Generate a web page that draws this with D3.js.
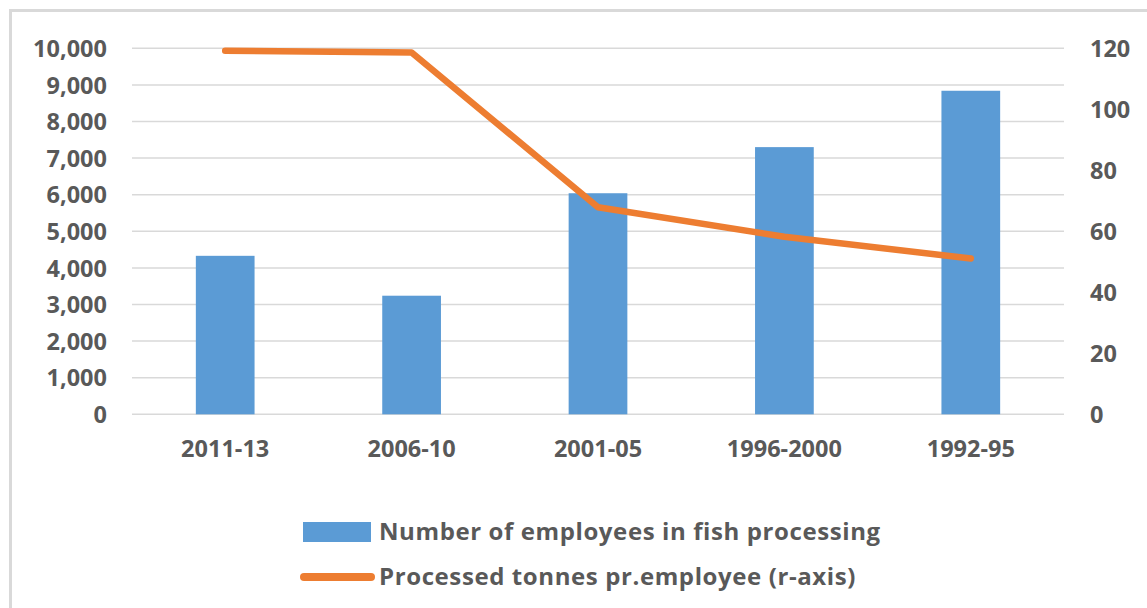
<!DOCTYPE html>
<html>
<head>
<meta charset="utf-8">
<script src="https://cdn.jsdelivr.net/npm/d3@7/dist/d3.min.js"></script>
<style>
  html, body { margin: 0; padding: 0; background: #fff; }
  svg { display: block; }
  text { font-family: "Open Sans", Lato, sans-serif; font-weight: 700; fill: #595959; }
</style>
</head>
<body>
<svg id="chart" width="1147" height="608"></svg>
<script>
// Fish processing: employees (bars, left axis) and tonnes per employee (line, right axis)
const periods = ["2011-13", "2006-10", "2001-05", "1996-2000", "1992-95"];
const employees = [4330, 3240, 6040, 7300, 8840];
const tonnesPerEmployee = [119.2, 118.6, 67.9, 58.2, 51.1];
const leftTicks = [0, 1000, 2000, 3000, 4000, 5000, 6000, 7000, 8000, 9000, 10000];
const rightTicks = [0, 20, 40, 60, 80, 100, 120];
const seriesNames = ["Number of employees in fish processing", "Processed tonnes pr.employee (r-axis)"];

const barColor = "#5B9BD5";
const lineColor = "#ED7D31";
const gridColor = "#D9D9D9";
const tickFont = 23.5;
const legendFont = 24;

const svg = d3.select("#chart");
const plot = { left: 132, right: 1064, top: 48.3, bottom: 414.3 };

// outer chart frame (only top/left edges fall inside the view)
svg.append("rect")
  .attr("x", 10.5).attr("y", 10.5)
  .attr("width", 1200).attr("height", 700)
  .attr("fill", "none").attr("stroke", gridColor).attr("stroke-width", 3);

const x = d3.scaleBand().domain(periods)
  .range([plot.left, plot.right])
  .paddingInner(0.685).paddingOuter(0.3425);
const yLeft = d3.scaleLinear().domain([0, 10000]).range([plot.bottom, plot.top]);
const yRight = d3.scaleLinear().domain([0, 120]).range([plot.bottom, plot.top]);

// gridlines
svg.append("g").selectAll("line").data(leftTicks).join("line")
  .attr("x1", plot.left).attr("x2", plot.right)
  .attr("y1", d => yLeft(d)).attr("y2", d => yLeft(d))
  .attr("stroke", gridColor).attr("stroke-width", 1.5);

// left axis
const fmt = d3.format(",");
const leftAxis = svg.append("g")
  .attr("transform", `translate(${plot.left - 25},0)`)
  .call(d3.axisLeft(yLeft).tickValues(leftTicks).tickFormat(fmt).tickSize(0).tickPadding(0));
leftAxis.select(".domain").remove();

// right axis
const rightAxis = svg.append("g")
  .attr("transform", `translate(${plot.right + 26},0)`)
  .call(d3.axisRight(yRight).tickValues(rightTicks).tickSize(0).tickPadding(0));
rightAxis.select(".domain").remove();

// category axis labels
const xAxis = svg.append("g")
  .attr("transform", `translate(0,${plot.bottom + 34})`)
  .call(d3.axisBottom(x).tickSize(0).tickPadding(0));
xAxis.select(".domain").remove();

svg.selectAll("g[font-family]").attr("font-family", null).attr("font-size", null);
svg.selectAll(".tick text")
  .attr("fill", "#595959")
  .attr("font-size", tickFont)
  .attr("dy", "0.35em");

// bars
svg.append("g").selectAll("rect").data(periods).join("rect")
  .attr("x", d => x(d))
  .attr("width", x.bandwidth())
  .attr("y", (d, i) => yLeft(employees[i]))
  .attr("height", (d, i) => yLeft(0) - yLeft(employees[i]))
  .attr("fill", barColor);

// line
const line = d3.line()
  .x((d, i) => x(periods[i]) + x.bandwidth() / 2)
  .y(d => yRight(d));
svg.append("path").datum(tonnesPerEmployee)
  .attr("d", line)
  .attr("fill", "none").attr("stroke", lineColor)
  .attr("stroke-width", 6.5).attr("stroke-linejoin", "round").attr("stroke-linecap", "round");

// legend
const legend = svg.append("g");
legend.append("rect")
  .attr("x", 303).attr("y", 522).attr("width", 68).attr("height", 20)
  .attr("fill", barColor);
legend.append("line")
  .attr("x1", 304).attr("x2", 371).attr("y1", 577).attr("y2", 577)
  .attr("stroke", lineColor).attr("stroke-width", 8).attr("stroke-linecap", "round");
legend.selectAll("text").data(seriesNames).join("text")
  .attr("x", 379)
  .attr("y", (d, i) => 532 + i * 45)
  .attr("dy", "0.35em")
  .attr("font-size", legendFont)
  .attr("letter-spacing", 0.6)
  .text(d => d);
</script>
</body>
</html>
